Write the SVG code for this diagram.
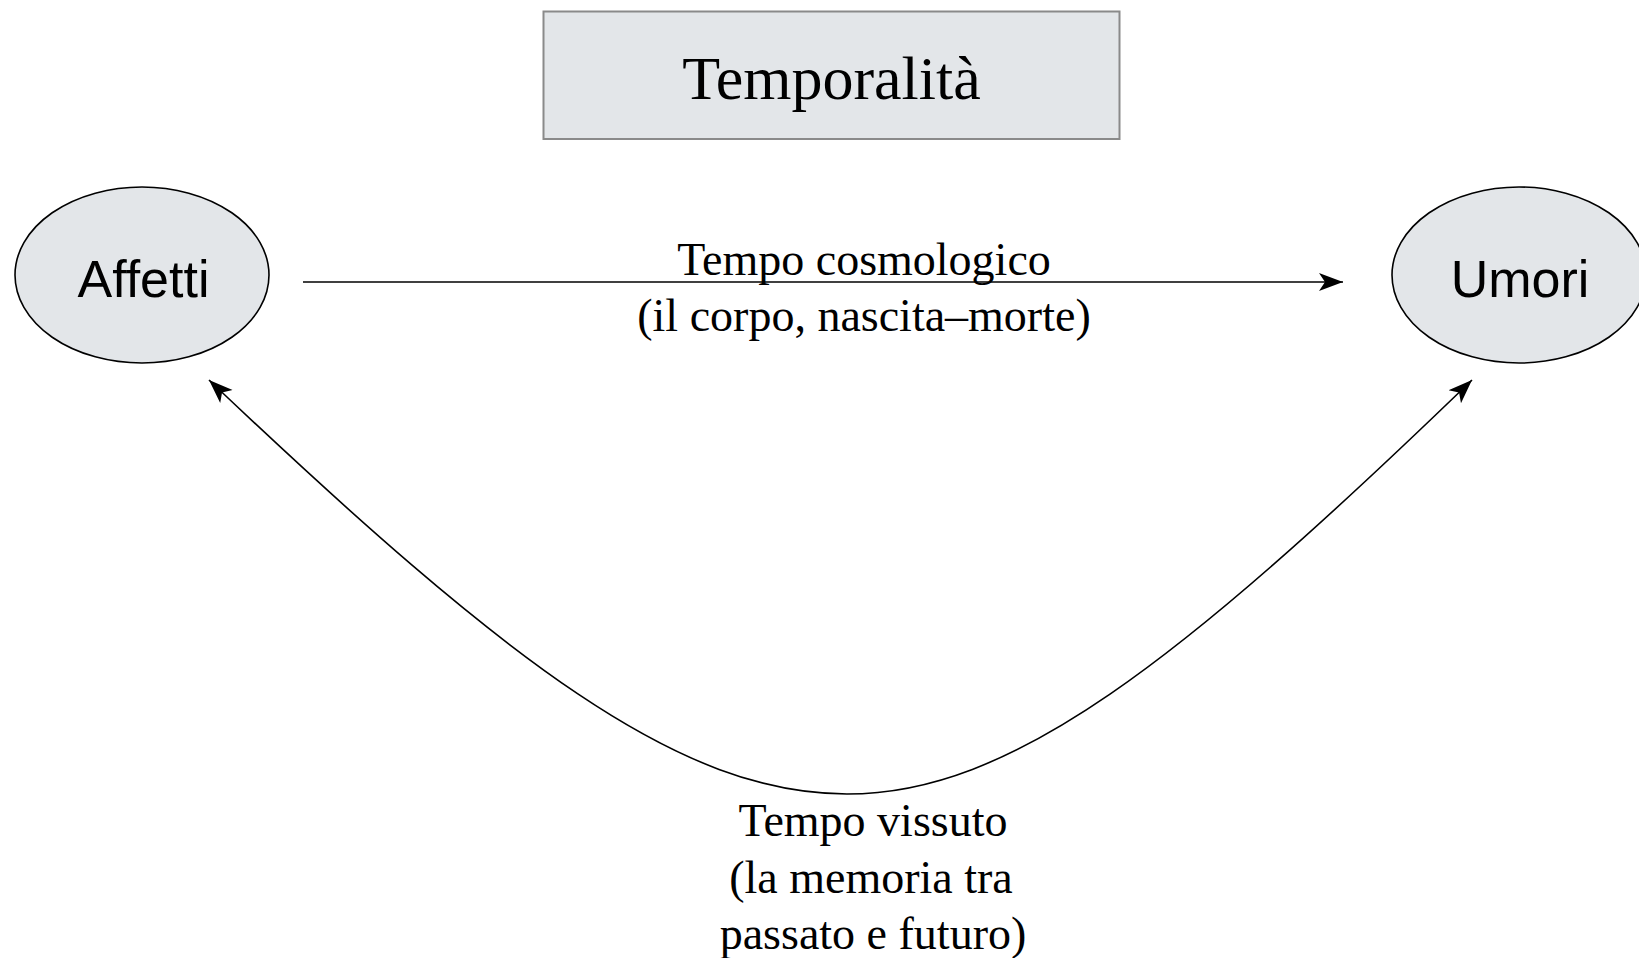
<svg xmlns="http://www.w3.org/2000/svg" width="1639" height="958" viewBox="0 0 1639 958">
<style>
.box{fill:#e3e6e9;stroke:#8a8a8a;stroke-width:2}
.ell{fill:#e3e6e9;stroke:#000;stroke-width:1.6}
.serif{font-family:"Liberation Serif","Times New Roman",serif;fill:#000;text-anchor:middle}
.sans{font-family:"Liberation Sans",Arial,sans-serif;fill:#000;text-anchor:middle;font-size:52px}
.edge{fill:none;stroke:#000;stroke-width:1.6}
</style>
<defs>
<marker id="arr" markerUnits="userSpaceOnUse" markerWidth="26" markerHeight="20" viewBox="0 0 26 20" refX="24" refY="10" orient="auto-start-reverse">
<path d="M0,1 L24,10 L0,19 L6,10 Z" fill="#000"/>
</marker>
</defs>
<rect width="1639" height="958" fill="#fff"/>
<g id="title">
<rect class="box" x="543.5" y="11.5" width="576" height="127.5"/>
<text class="serif" x="831.5" y="99" font-size="62">Temporalità</text>
</g>
<g id="affetti">
<ellipse class="ell" cx="142" cy="275" rx="127" ry="88"/>
<text class="sans" x="143.5" y="297">Affetti</text>
</g>
<g id="umori">
<ellipse class="ell" cx="1519" cy="275" rx="127" ry="88"/>
<text class="sans" x="1520" y="297">Umori</text>
</g>
<g id="connectors">
<path class="edge" d="M303,282 L1343,282" marker-end="url(#arr)"/>
<path class="edge" d="M209,380 C509,665 680,794 847,794 C1011,794 1177,665 1472,380" marker-start="url(#arr)" marker-end="url(#arr)"/>
</g>
<g id="labels">
<text class="serif" x="864" y="275" font-size="46">Tempo cosmologico</text>
<text class="serif" x="864" y="331" font-size="46">(il corpo, nascita–morte)</text>
<text class="serif" x="873" y="836" font-size="46">Tempo vissuto</text>
<text class="serif" x="871" y="893" font-size="46">(la memoria tra</text>
<text class="serif" x="873" y="949" font-size="46">passato e futuro)</text>
</g>
</svg>
